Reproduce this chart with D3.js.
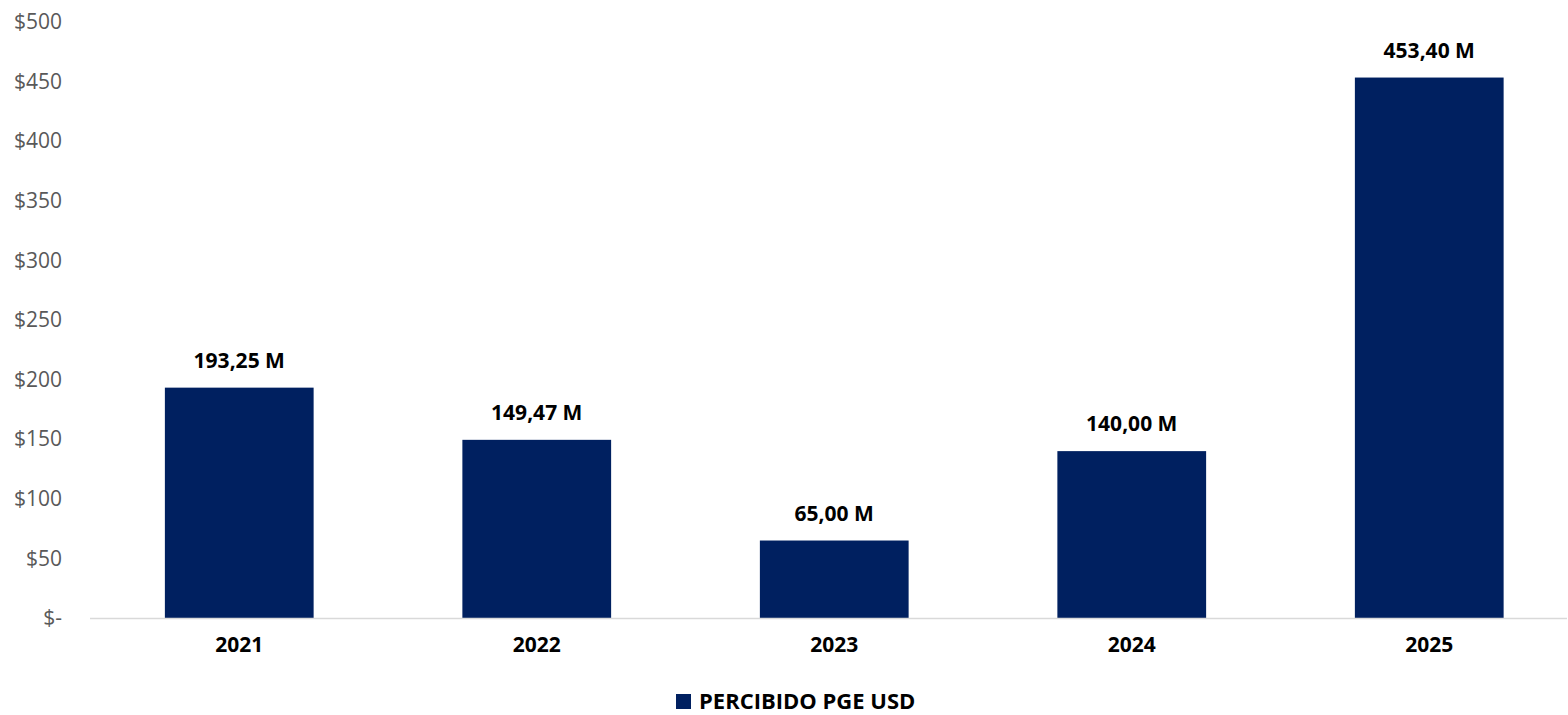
<html>
<head>
<meta charset="UTF-8">
<title>Percibido PGE USD</title>
<script src="https://cdn.jsdelivr.net/npm/d3@7"></script>
<style>
  body { margin:0; background:#fff; overflow:hidden; }
  svg text { font-family: "Open Sans", "Noto Sans", sans-serif; }
</style>
</head>
<body>
<svg id="chart" width="1568" height="715"></svg>
<script>
// datos
var years  = ["2021", "2022", "2023", "2024", "2025"];
var values = [193.25, 149.47, 65.00, 140.00, 453.40];
var yTicks = [0, 50, 100, 150, 200, 250, 300, 350, 400, 450, 500];
var seriesName = "PERCIBIDO PGE USD";

var svg = d3.select("#chart"),
    barColor = "#002060";

var x = d3.scaleBand().domain(years).range([90.5, 1578]).paddingInner(0.5).paddingOuter(0.25);
var y = d3.scaleLinear().domain([0, 500]).range([618, 22]);

// eje y (solo etiquetas)
var yAxis = d3.axisLeft(y).tickValues(yTicks).tickSize(0).tickPadding(0)
    .tickFormat(function(d){ return d == 0 ? "$-" : "$" + d; });
var gy = svg.append("g").attr("transform", "translate(62,0)").call(yAxis);
gy.select(".domain").remove();
gy.selectAll("text").attr("fill", "#595959").style("font-size", "21px");

// barras
svg.selectAll("rect.bar")
    .data(values)
    .enter()
    .append("rect")
    .attr("class", "bar")
    .attr("x", function(d, i){ return x(years[i]); })
    .attr("width", x.bandwidth())
    .attr("y", function(d){ return y(d); })
    .attr("height", function(d){ return y(0) - y(d); })
    .attr("fill", barColor);

// linea base
svg.append("line")
    .attr("x1", 90).attr("x2", 1567)
    .attr("y1", y(0) + 0.5).attr("y2", y(0) + 0.5)
    .attr("stroke", "#d9d9d9").attr("stroke-width", 1.5);

// eje x
var xAxis = d3.axisBottom(x).tickSize(0).tickPadding(0);
var gx = svg.append("g").attr("transform", "translate(0,637)").call(xAxis);
gx.select(".domain").remove();
gx.selectAll("text").attr("fill", "#000").style("font-size", "21px").style("font-weight", "bold");

// etiquetas de datos
svg.selectAll("text.lbl")
    .data(values)
    .enter()
    .append("text")
    .attr("class", "lbl")
    .attr("x", function(d, i){ return x(years[i]) + x.bandwidth() / 2; })
    .attr("y", function(d){ return y(d) - 20; })
    .attr("text-anchor", "middle")
    .style("font-size", "21px").style("font-weight", "bold")
    .text(function(d){ return d.toFixed(2).replace(".", ",") + " M"; });

// leyenda
var lg = svg.append("g").attr("transform", "translate(676,694)");
lg.append("rect").attr("width", 15).attr("height", 15).attr("fill", barColor);
lg.append("text").attr("x", 23).attr("y", 15)
    .style("font-size", "22px").style("font-weight", "bold")
    .text(seriesName);
</script>
</body>
</html>
